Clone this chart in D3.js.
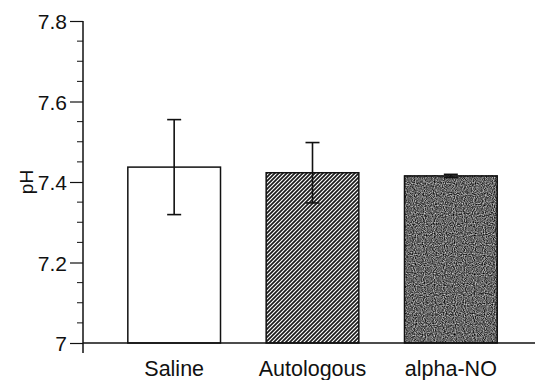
<!DOCTYPE html>
<html>
<head>
<meta charset="utf-8">
<script src="https://cdn.jsdelivr.net/npm/d3@7"></script>
<style>
  body { margin: 0; background: #fff; }
  text { font-family: "Liberation Sans", Arial, sans-serif; fill: #111; }
</style>
</head>
<body>
<svg width="537" height="380"></svg>
<script>
const groups = ['Saline', 'Autologous', 'alpha-NO']
const means = [7.437, 7.423, 7.415]
const errors = [0.118, 0.075, 0.004]
const yTicks = [7, 7.2, 7.4, 7.6, 7.8]
const yTickLabels = ['7', '7.2', '7.4', '7.6', '7.8']

const svg = d3.select('svg')
const width = +svg.attr('width')
const height = +svg.attr('height')

const axisX = 83
const baseY = 343

const yScale = d3.scaleLinear()
    .domain([7, 7.8])
    .range([baseY, 21])
const xScale = d3.scaleBand()
    .domain(groups)
    .range([105, 520])
    .paddingInner(0.33)
    .paddingOuter(0.165)

const defs = svg.append('defs')
const hatch = defs.append('pattern')
    .attr('id', 'hatch')
    .attr('patternUnits', 'userSpaceOnUse')
    .attr('width', 4).attr('height', 4)
hatch.append('rect').attr('width', 4).attr('height', 4).attr('fill', '#fff')
hatch.append('path')
    .attr('d', 'M-1,1 l2,-2 M0,4 l4,-4 M3,5 l2,-2')
    .attr('stroke', '#1a1a1a').attr('stroke-width', 1.7)

// grainy grey: noise filter clipped to the bar
const grain = defs.append('filter').attr('id', 'grain')
    .attr('x', 0).attr('y', 0).attr('width', 1).attr('height', 1)
    .attr('color-interpolation-filters', 'sRGB')
grain.append('feTurbulence')
    .attr('type', 'fractalNoise').attr('baseFrequency', 0.9)
    .attr('numOctaves', 1).attr('seed', 3).attr('result', 'noise')
grain.append('feColorMatrix')
    .attr('in', 'noise').attr('type', 'matrix')
    .attr('values', '1.3 0 0 0 -0.25  1.3 0 0 0 -0.25  1.3 0 0 0 -0.25  0 0 0 0 1')
    .attr('result', 'grey')
grain.append('feComposite')
    .attr('in', 'grey').attr('in2', 'SourceGraphic').attr('operator', 'in')

const fills = ['#fff', 'url(#hatch)', '#666']

// bars
svg.selectAll('rect.bar').data(groups)
    .enter().append('rect')
    .attr('class', 'bar')
    .attr('x', d => xScale(d))
    .attr('y', (d, i) => yScale(means[i]))
    .attr('width', xScale.bandwidth())
    .attr('height', (d, i) => baseY - yScale(means[i]))
    .attr('fill', (d, i) => fills[i])
    .attr('filter', (d, i) => i === 2 ? 'url(#grain)' : null)
    .attr('stroke', '#111')
    .attr('stroke-width', 1.5)

// outline on top of the grainy bar
svg.append('rect')
    .attr('x', xScale(groups[2]))
    .attr('y', yScale(means[2]))
    .attr('width', xScale.bandwidth())
    .attr('height', baseY - yScale(means[2]))
    .attr('fill', 'none')
    .attr('stroke', '#111')
    .attr('stroke-width', 1.5)

// error bars
const cap = 7
const eb = svg.append('g').attr('stroke', '#111').attr('stroke-width', 1.6)
groups.forEach((g, i) => {
    const cx = xScale(g) + xScale.bandwidth() / 2
    const top = yScale(means[i] + errors[i])
    const bot = yScale(means[i] - errors[i])
    eb.append('line').attr('x1', cx).attr('x2', cx).attr('y1', top).attr('y2', bot)
    eb.append('line').attr('x1', cx - cap).attr('x2', cx + cap).attr('y1', top).attr('y2', top)
    eb.append('line').attr('x1', cx - cap).attr('x2', cx + cap).attr('y1', bot).attr('y2', bot)
})

// y axis
const yAxis = svg.append('g')
    .attr('transform', `translate(${axisX},0)`)
    .call(d3.axisLeft(yScale)
        .tickValues(yTicks)
        .tickFormat((d, i) => yTickLabels[i])
        .tickSize(13)
        .tickSizeOuter(0)
        .tickPadding(3))
yAxis.select('.domain').attr('stroke', '#111').attr('stroke-width', 1.5)
    .attr('d', `M0,${yScale(7.8)}V${baseY + 10}`)
yAxis.selectAll('.tick line').attr('stroke', '#111').attr('stroke-width', 1.2)
yAxis.selectAll('.tick text')
    .attr('font-size', 21)
    .attr('dy', '0.36em')

// minor ticks
const minor = d3.range(7.05, 7.8, 0.05).filter(v => Math.abs(v * 5 - Math.round(v * 5)) > 0.01)
svg.append('g').selectAll('line').data(minor)
    .enter().append('line')
    .attr('x1', axisX - 6).attr('x2', axisX)
    .attr('y1', d => yScale(d)).attr('y2', d => yScale(d))
    .attr('stroke', '#111').attr('stroke-width', 1)

// x axis
const xAxis = svg.append('g')
    .attr('transform', `translate(0,${baseY})`)
    .call(d3.axisBottom(xScale).tickSize(0).tickPadding(18))
xAxis.select('.domain').attr('stroke', '#111').attr('stroke-width', 1.5)
    .attr('d', `M${axisX},0H535`)
xAxis.selectAll('.tick text')
    .attr('font-size', 21.5)

// y label
svg.append('text')
    .attr('transform', `translate(33,${yScale(7.4)}) rotate(-90)`)
    .attr('text-anchor', 'middle')
    .attr('font-size', 19)
    .text('pH')
</script>
</body>
</html>
